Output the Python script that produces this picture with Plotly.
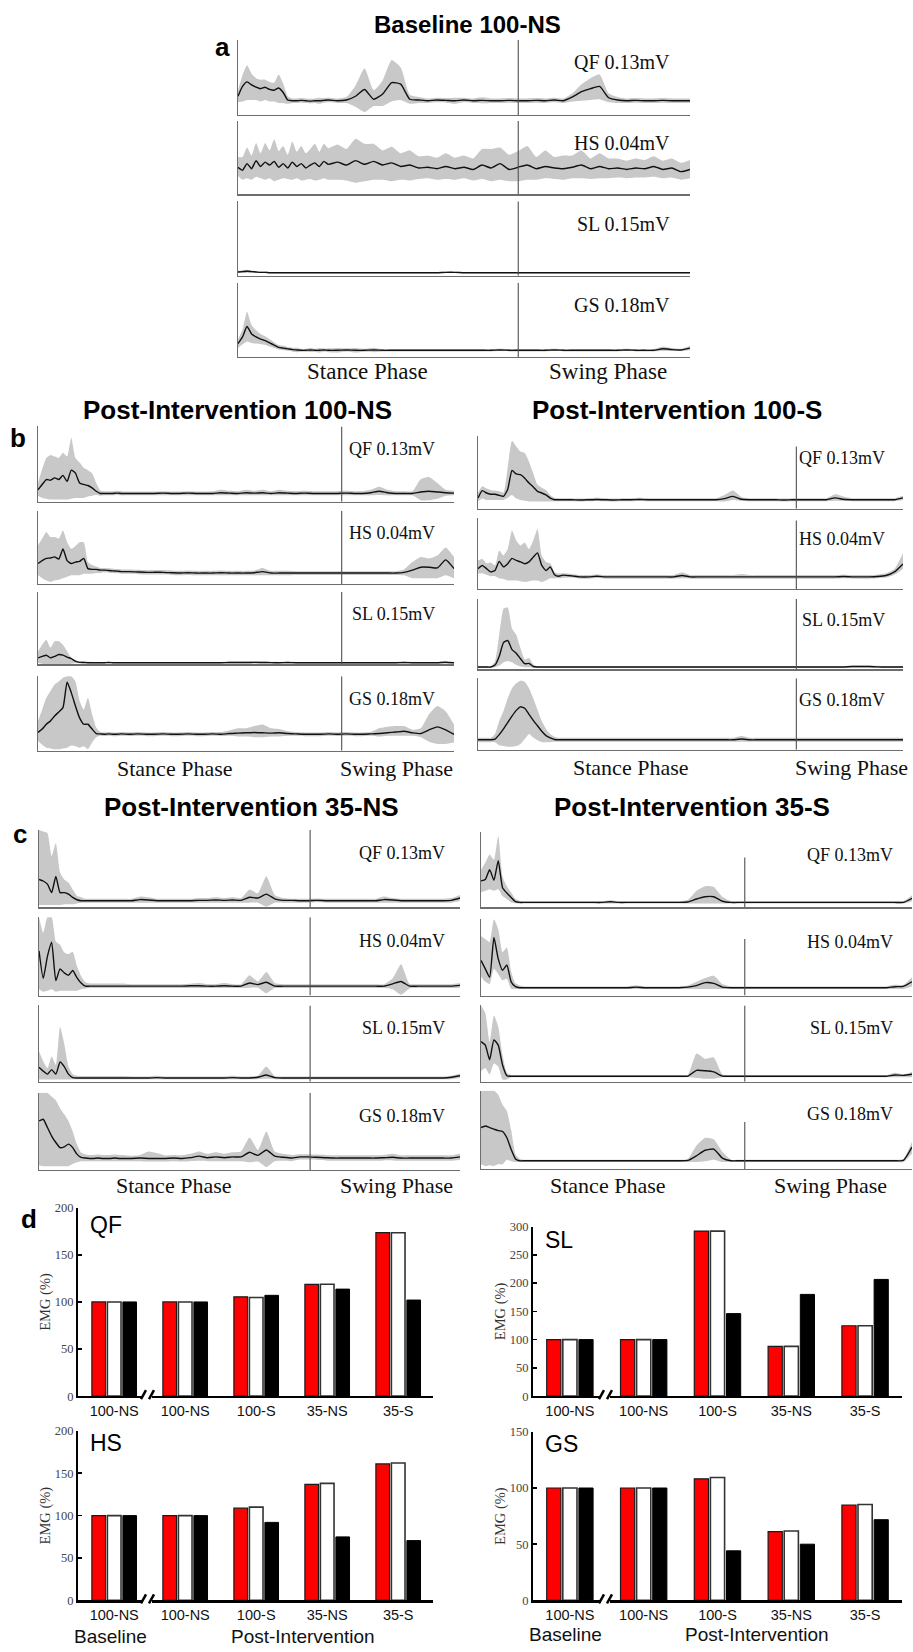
import plotly.graph_objects as go

W, H = 913, 1652

# ---------------- EMG envelopes: % of gait cycle vs % of panel full scale ----------------
X_PCT = [0, 1, 2, 3, 4, 5, 6, 7, 8, 9, 10, 11, 12, 13, 14, 15, 16, 17, 18, 19, 20,
         22, 24, 26, 28, 30, 32, 34, 36, 38, 40,
         42, 44, 46, 48, 50, 52, 54, 56, 58, 60,
         62, 64, 66, 68, 70, 72, 74, 76, 78, 80,
         82, 84, 86, 88, 90, 92, 94, 96, 98, 100]

# Panel a: Baseline 100-NS
A_QF_MEAN = [25, 38, 44, 40, 37, 35, 37, 34, 33, 36, 30, 20, 19, 19, 19.5, 19, 18.5, 19, 19, 19.5, 20,
             19, 20, 25, 34, 21, 28, 43, 41, 21, 20,
             19, 20, 19.5, 19, 20, 19, 19.5, 19, 19, 19.5,
             19, 19, 19.5, 19, 20, 19, 24, 31, 35, 38,
             23, 20, 19, 19.5, 19, 19, 19.5, 19, 19, 19]
A_QF_HI = [33, 53, 66, 55, 49, 47, 47, 44, 43, 54, 42, 25, 22, 22, 22.5, 22, 21.5, 22, 23, 22.5, 23,
           22, 24, 39, 62, 33, 46, 73, 63, 27, 24,
           22, 23, 22.5, 23, 23, 22, 23.5, 22, 22, 22.5,
           22, 22, 22.5, 22, 23, 22, 29, 41, 49, 54,
           29, 24, 22, 22.5, 22, 22, 22.5, 22, 22, 22]
A_QF_LO = [17, 18, 20, 20, 20, 18, 20, 18, 18, 16, 16, 15, 16, 16, 16.5, 16, 15.5, 16, 15, 16.5, 17,
           16, 16, 11, 4, 12, 12, 18, 20, 15, 16,
           16, 17, 16.5, 15, 17, 16, 15.5, 16, 16, 16.5,
           16, 16, 16.5, 16, 17, 16, 18, 19, 20, 21,
           17, 16, 16, 16.5, 16, 16, 16.5, 16, 16, 16]

A_HS_MEAN = [37, 33, 42, 35, 46, 38, 44, 40, 45, 37, 42, 36, 44, 38, 42, 36, 40, 43, 38, 45, 41,
             44, 40, 46, 41, 45, 40, 43, 38, 40, 36,
             37, 35, 38, 35, 37, 34, 40, 36, 42, 34,
             37, 40, 35, 38, 36, 35, 37, 40, 35, 38,
             35, 36, 34, 36, 35, 38, 34, 36, 31, 34]
A_HS_HI = [51, 51, 64, 53, 70, 56, 70, 60, 75, 59, 66, 54, 72, 58, 66, 56, 62, 69, 58, 69, 63,
           68, 62, 76, 69, 69, 60, 65, 56, 60, 52,
           53, 50, 56, 50, 53, 49, 62, 62, 64, 54,
           59, 66, 51, 60, 51, 53, 53, 60, 49, 56,
           49, 49, 46, 49, 47, 52, 46, 49, 43, 47]
A_HS_LO = [25, 20, 22, 20, 24, 22, 20, 22, 18, 20, 22, 21, 20, 22, 19, 20, 21, 19, 20, 22, 20,
           20, 19, 16, 18, 20, 20, 18, 20, 19, 21,
           22, 20, 21, 20, 22, 19, 21, 18, 20, 18,
           18, 20, 20, 22, 21, 20, 22, 22, 21, 22,
           22, 23, 22, 23, 23, 24, 22, 23, 20, 22]

A_SL_MEAN = [5, 5.5, 6, 5.5, 5, 4.5, 4.5, 4, 4, 4, 4, 4, 4, 4, 4, 4, 4, 4, 4, 4, 4,
             4, 4, 4, 4, 4, 4, 4, 4, 4, 4,
             4, 4, 4.5, 4.5, 4, 4, 4, 4, 4, 4,
             4, 4, 4, 4, 4, 4, 4, 4, 4, 4,
             4, 4, 4, 4, 4, 4, 4, 4, 4, 4]
A_SL_HI = [6.5, 7.5, 8, 7, 6, 5.5, 5.5, 4.7, 4.7, 4.7, 4.7, 4.7, 4.7, 4.7, 4.7, 4.7, 4.7, 4.7, 4.7, 4.7, 4.7,
           4.7, 4.7, 4.7, 4.7, 4.7, 4.7, 4.7, 4.7, 4.7, 4.7,
           4.7, 4.7, 5.2, 5.2, 4.7, 4.7, 4.7, 4.7, 4.7, 4.7,
           4.7, 4.7, 4.7, 4.7, 4.7, 4.7, 4.7, 4.7, 4.7, 4.7,
           4.7, 4.7, 4.7, 4.7, 4.7, 4.7, 4.7, 4.7, 4.7, 4.7]
A_SL_LO = [3.5, 3.5, 4, 4, 4, 3.5, 3.5, 3.3, 3.3, 3.3, 3.3, 3.3, 3.3, 3.3, 3.3, 3.3, 3.3, 3.3, 3.3, 3.3, 3.3,
           3.3, 3.3, 3.3, 3.3, 3.3, 3.3, 3.3, 3.3, 3.3, 3.3,
           3.3, 3.3, 3.8, 3.8, 3.3, 3.3, 3.3, 3.3, 3.3, 3.3,
           3.3, 3.3, 3.3, 3.3, 3.3, 3.3, 3.3, 3.3, 3.3, 3.3,
           3.3, 3.3, 3.3, 3.3, 3.3, 3.3, 3.3, 3.3, 3.3, 3.3]

A_GS_MEAN = [18, 27, 41, 31, 27, 24, 22, 19, 16, 13, 12, 11, 10, 9.5, 9, 9, 9.5, 9, 9, 9.5, 9,
             9, 9.5, 9, 9, 9.5, 9, 9, 9, 9, 9,
             9, 9, 9, 9, 9, 9, 9, 9, 9.5, 9,
             9, 9, 9, 9, 9.5, 9, 9, 9, 9, 9,
             9, 9, 9.5, 9, 9, 9, 11, 10, 9.5, 12]
A_GS_HI = [24, 37, 61, 43, 36, 31, 28, 24, 20, 16, 15, 13.5, 12.5, 12.5, 11, 11, 12.5, 11, 12, 11.5, 11.5,
           12, 11.5, 12, 11, 12.5, 10.5, 10.5, 10.5, 10.5, 10.5,
           10.5, 10.5, 10.5, 10.5, 10.5, 10.5, 10.5, 10.5, 11, 10.5,
           10.5, 10.5, 10.5, 10.5, 11, 10.5, 10.5, 10.5, 10.5, 10.5,
           10.5, 10.5, 11, 10.5, 10.5, 10.5, 14, 12, 11, 15]
A_GS_LO = [12, 17, 21, 19, 18, 17, 16, 14, 12, 10, 9, 8.5, 7.5, 6.5, 7, 7, 6.5, 7, 6, 7.5, 6.5,
           6, 7.5, 6, 7, 6.5, 7.5, 7.5, 7.5, 7.5, 7.5,
           7.5, 7.5, 7.5, 7.5, 7.5, 7.5, 7.5, 7.5, 8, 7.5,
           7.5, 7.5, 7.5, 7.5, 8, 7.5, 7.5, 7.5, 7.5, 7.5,
           7.5, 7.5, 8, 7.5, 7.5, 7.5, 8, 8, 8, 9]

# Panel b (left): Post-Intervention 100-NS
B1_QF_MEAN = [16, 23, 29.5, 28.6, 31.7, 29.5, 35, 27, 42, 38, 25, 23, 21.6, 18.5, 14, 11, 11, 11, 11, 11.5, 11,
              11, 11, 11, 11, 11.5, 11, 11, 11.5, 11, 11,
              11, 12, 11.5, 11, 12, 11.5, 12, 11, 12, 11.5,
              11, 11.5, 11, 11, 11, 11, 11.5, 11, 11, 12,
              14, 12, 11, 11, 11, 13, 14, 13, 12, 11.5]
B1_QF_HI = [25, 43, 58, 62, 60, 58, 65, 60, 85, 58, 52, 45, 42, 38, 25, 15, 14, 14, 14, 14.5, 14,
            13.5, 13.5, 13.5, 13.5, 14, 13.5, 13.5, 14, 13.5, 13.5,
            14, 16, 14.5, 14, 16, 14.5, 16, 14, 16, 14.5,
            14, 14.5, 14, 14, 14, 14, 14.5, 14, 14, 16,
            20, 16, 14, 14, 14, 30, 33, 25, 16, 14.5]
B1_QF_LO = [8, 5, 4, 3, 3, 3, 3, 3, 4, 5, 5, 5, 7, 8, 9, 8, 8.5, 8.5, 8.5, 9, 8.5,
            8.5, 8.5, 8.5, 8.5, 8.5, 8.5, 8.5, 8.5, 8.5, 8.5,
            8.5, 8.5, 8.5, 8.5, 8.5, 8.5, 8.5, 8.5, 8.5, 8.5,
            8.5, 8.5, 8.5, 8.5, 8.5, 8.5, 8.5, 8.5, 8.5, 8.5,
            9, 8.5, 8.5, 8.5, 8.5, 2, 2, 4, 8, 8.5]

B1_HS_MEAN = [28, 32, 35, 35.6, 37, 34, 48, 32, 28, 30, 31, 35, 21, 20, 20, 19, 19, 18.5, 18, 17.6, 17,
              17, 16.5, 16, 16, 16, 15.5, 15, 15.5, 15, 15,
              15, 15.5, 15, 15, 15, 15.5, 17, 15, 15, 15,
              15, 15, 15, 15, 15, 15, 15, 15, 15, 15,
              15, 15, 15, 16, 19, 23, 23, 22, 33, 21]
B1_HS_HI = [53, 62, 71, 64, 64, 62, 73, 57, 48, 52, 57, 57, 30, 26, 24, 22, 22, 21.5, 21, 20.5, 20,
            20, 19.5, 19, 19, 19, 18.5, 18, 18.5, 18, 18,
            18, 18.5, 18, 18, 18, 18.5, 22, 18, 18, 18,
            17.5, 17.5, 17.5, 17.5, 17.5, 17.5, 17.5, 17.5, 17.5, 17.5,
            17.5, 17.5, 17.5, 20, 30, 37, 35, 39, 50, 37]
B1_HS_LO = [12, 8, 5, 3, 5, 6, 8, 10, 12, 12, 12, 14, 14, 14, 15, 15, 16, 15.5, 15, 14.6, 14,
            14, 13.5, 13, 13, 13, 12.5, 12, 12.5, 12, 12,
            12, 12, 12, 12, 12, 12, 12, 12, 12, 12,
            12.5, 12.5, 12.5, 12.5, 12.5, 12.5, 12.5, 12.5, 12.5, 12.5,
            12.5, 12.5, 12.5, 12, 8, 8, 8, 8, 12, 8]

B1_SL_MEAN = [9, 11, 12.7, 9, 11, 13.6, 12.7, 10, 8, 4.5, 2.7, 2.5, 2.3, 2.3, 2.3, 2.3, 2.3, 2.5, 2.3, 2.3, 2.3,
              2.3, 2.3, 2.3, 2.3, 2.3, 2.3, 2.3, 2.3, 2.3, 2.3,
              2.3, 2.3, 2.5, 2.6, 2.5, 2.8, 2.6, 2.4, 2.3, 2.5,
              2.3, 2.3, 2.3, 2.3, 2.3, 2.3, 2.3, 2.3, 2.3, 2.3,
              2.3, 2.3, 2.3, 2.5, 2.3, 2.3, 2.3, 2.3, 3, 2.3]
B1_SL_HI = [18, 27, 34, 23, 32, 32, 27, 18, 9, 5.5, 4, 4.5, 3.5, 3.3, 3.3, 3.3, 3.3, 3.5, 3.3, 3.3, 3.3,
            3.3, 3.3, 3.3, 3.3, 3.3, 3.3, 3.3, 3.3, 3.3, 3.3,
            3.3, 3.3, 4, 4, 4, 4.3, 4, 3.5, 3.3, 3.5,
            3.3, 3.3, 3.3, 3.3, 3.3, 3.3, 3.3, 3.3, 3.3, 3.3,
            3.3, 3.3, 3.3, 3.5, 3.3, 3.3, 3.3, 3.3, 4, 3.3]
B1_SL_LO = [2, 1, 0, 0, 0, 0, 0, 0, 1, 1.5, 1.5, 1.5, 1.3, 1.3, 1.3, 1.3, 1.3, 1.5, 1.3, 1.3, 1.3,
            1.3, 1.3, 1.3, 1.3, 1.3, 1.3, 1.3, 1.3, 1.3, 1.3,
            1.3, 1.3, 1.3, 1.3, 1.3, 1.3, 1.3, 1.3, 1.3, 1.3,
            1.3, 1.3, 1.3, 1.3, 1.3, 1.3, 1.3, 1.3, 1.3, 1.3,
            1.3, 1.3, 1.3, 1.3, 1.3, 1.3, 1.3, 1.3, 1.3, 1.3]

B1_GS_MEAN = [24.4, 29, 35.5, 40, 46.7, 52, 57.8, 92, 78, 60, 44, 35.5, 35.5, 29, 23, 22.5, 22, 22.5, 22, 22, 22.5,
              22, 22.5, 22, 22, 22.5, 22, 22, 22.5, 22, 22,
              22.5, 22, 23, 23.5, 24, 24.5, 24, 23.5, 24, 23,
              22.5, 22, 22, 22, 22.5, 22, 22.5, 22, 22, 22.5,
              23, 24, 25, 26, 24, 23, 28, 32, 28, 22]
B1_GS_HI = [40, 55, 71, 80, 89, 93, 98, 100, 100, 93, 67, 55, 71, 49, 31, 25, 24.5, 25, 24.5, 24.5, 25,
            24.5, 25, 24.5, 24.5, 25, 24.5, 24.5, 25, 24.5, 24.5,
            25, 25, 27, 30, 30, 33, 35, 30, 29, 26,
            25, 24.5, 24.5, 24.5, 25, 24.5, 25, 24.5, 24.5, 25,
            30, 32, 33, 33, 28, 30, 49, 60, 53, 35]
B1_GS_LO = [13, 8, 4, 3, 2, 2, 3, 4, 7, 6, 4, 6, 2, 11, 18, 20, 19.5, 20, 19.5, 19.5, 20,
            19.5, 20, 19.5, 19.5, 20, 19.5, 19.5, 20, 19.5, 19.5,
            20, 19.5, 20, 19, 19, 18, 18, 19, 19, 20,
            20, 19.5, 19.5, 19.5, 20, 19.5, 20, 19.5, 19.5, 20,
            19, 20, 20, 20, 20, 18, 12, 9, 9, 11]

# Panel b (right): Post-Intervention 100-S
B2_QF_MEAN = [14.7, 25, 21.7, 20, 20, 18.4, 17, 27, 53, 48, 47, 42, 35.5, 30, 24, 21.7, 19, 14.7, 12.4, 12.4, 12.4,
              12.4, 12, 12.4, 12.8, 12.4, 12, 12.4, 12.4, 12.8, 12.4,
              12.4, 12.4, 12.4, 12.4, 12.4, 12.4, 12.4, 12.4, 14, 17,
              13, 12.4, 12.4, 12.4, 12.4, 12, 12.4, 12.4, 12.4, 12.4,
              12.4, 15, 13, 12.4, 12.4, 12.4, 12.4, 12.4, 12.4, 15]
B2_QF_HI = [22, 31, 28, 26, 25, 24, 22, 58, 94, 86, 79, 77, 65, 49, 33, 29, 26, 19, 15, 14.5, 14.5,
            14.5, 14, 14.5, 15, 14.5, 14, 14.5, 14.5, 15, 14.5,
            14.5, 14.5, 14.5, 14.5, 14.5, 14.5, 14.5, 14.5, 19, 25,
            16, 14.5, 14.5, 14.5, 14.5, 14, 14.5, 14.5, 14.5, 14.5,
            14.5, 20, 17, 14.5, 14.5, 14.5, 14.5, 14.5, 14.5, 18]
B2_QF_LO = [10, 14, 12, 12, 12, 12, 12, 15, 19, 14, 12, 11, 10, 10, 10, 10, 10, 10, 10.4, 10.4, 10.4,
            10.4, 10, 10.4, 10.8, 10.4, 10, 10.4, 10.4, 10.8, 10.4,
            10.4, 10.4, 10.4, 10.4, 10.4, 10.4, 10.4, 10.4, 10, 12,
            10.5, 10.4, 10.4, 10.4, 10.4, 10, 10.4, 10.4, 10.4, 10.4,
            10.4, 11, 10.5, 10.4, 10.4, 10.4, 10.4, 10.4, 10.4, 12]

B2_HS_MEAN = [28.6, 33, 28.6, 24, 26, 38.7, 31, 35.5, 43, 40, 38, 35.5, 38, 44.7, 50.7, 33, 26, 31, 20, 18, 19.4,
              18.4, 17, 17, 18, 17, 17, 17, 17, 17, 17,
              17, 17, 17, 19, 17, 17, 17, 17, 17, 17,
              17, 17, 17, 17, 17, 17, 17, 17, 17, 17,
              17, 17, 17.5, 17, 17, 17, 17.5, 19, 24, 35]
B2_HS_HI = [40, 42, 36, 37, 33, 54, 47, 56, 82, 68, 61, 65, 56, 68, 84, 47, 38, 36, 24, 21.7, 22,
            21, 19.5, 19.5, 20.5, 19.5, 19.5, 19.5, 19.5, 19.5, 19.5,
            19.5, 19.5, 19.5, 23, 19.5, 19.5, 19.5, 19.5, 19.5, 19.5,
            21, 19.5, 19.5, 19.5, 19.5, 19.5, 19.5, 19.5, 19.5, 19.5,
            19.5, 19.5, 20, 19.5, 19.5, 19.5, 20, 22, 28, 50]
B2_HS_LO = [21.7, 22, 20, 18, 18, 15, 14, 12, 12, 12, 11, 10, 11, 12, 12, 10, 12, 15, 15, 15, 15.5,
            16, 14.5, 14.5, 15.5, 14.5, 14.5, 14.5, 14.5, 14.5, 14.5,
            14.5, 14.5, 14.5, 15, 14.5, 14.5, 14.5, 14.5, 14.5, 14.5,
            14.5, 14.5, 14.5, 14.5, 14.5, 14.5, 14.5, 14.5, 14.5, 14.5,
            14.5, 14.5, 15, 14.5, 14.5, 14.5, 15, 16, 20, 28]

B2_SL_MEAN = [3.3, 3.3, 3.3, 3.3, 6, 18.6, 38, 41, 28, 23, 15, 8, 8.4, 4, 3.3, 3.3, 3.3, 3.3, 3.3, 3.3, 3.3,
              3.3, 3.3, 3.3, 3.3, 3.3, 3.3, 3.3, 3.3, 3.3, 3.3,
              3.3, 3.3, 3.3, 3.3, 3.3, 3.3, 3.3, 3.3, 3.3, 3.3,
              3.3, 3.3, 3.3, 3.3, 3.3, 3.3, 3.3, 3.3, 3.3, 3.3,
              3.3, 3.3, 3.3, 4, 4, 4, 3.5, 3.3, 3.3, 3.3]
B2_SL_HI = [4.5, 4.5, 4.5, 4.5, 11.6, 49, 86, 88, 58, 49, 30, 14, 16, 7, 4.6, 4.5, 4.5, 4.5, 4.5, 4.5, 4.5,
            4.5, 4.5, 4.5, 4.5, 4.5, 4.5, 4.5, 4.5, 4.5, 4.5,
            4.5, 4.5, 4.5, 4.5, 4.5, 4.5, 4.5, 4.5, 4.5, 4.5,
            4.5, 4.5, 4.5, 4.5, 4.5, 4.5, 4.5, 4.5, 4.5, 4.5,
            4.5, 4.5, 4.5, 5.5, 5.5, 5.5, 5, 4.5, 4.5, 4.5]
B2_SL_LO = [2.3, 2.3, 2.3, 2.3, 3, 5, 10, 12, 10, 6, 4, 3, 3, 2.3, 2.3, 2.3, 2.3, 2.3, 2.3, 2.3, 2.3,
            2.3, 2.3, 2.3, 2.3, 2.3, 2.3, 2.3, 2.3, 2.3, 2.3,
            2.3, 2.3, 2.3, 2.3, 2.3, 2.3, 2.3, 2.3, 2.3, 2.3,
            2.3, 2.3, 2.3, 2.3, 2.3, 2.3, 2.3, 2.3, 2.3, 2.3,
            2.3, 2.3, 2.3, 2.3, 2.3, 2.3, 2.3, 2.3, 2.3, 2.3]

B2_GS_MEAN = [13.8, 13.8, 13.8, 13.8, 14.7, 21, 29, 38, 47, 55, 60, 58, 49.5, 41, 33.5, 25.7, 19.7, 16.5, 14.2, 13.8, 13.8,
              13.8, 13.8, 13.8, 13.8, 13.8, 13.8, 13.8, 13.8, 13.8, 13.8,
              13.8, 13.8, 13.8, 13.8, 13.8, 13.8, 13.8, 13.8, 13.8, 13.8,
              15, 13.8, 13.8, 13.8, 13.8, 13.8, 13.8, 13.8, 13.8, 13.8,
              13.8, 13.8, 13.8, 13.8, 13.8, 13.8, 13.8, 13.8, 13.8, 13.8]
B2_GS_HI = [16.5, 16.5, 16.5, 16.5, 22, 40, 54, 72, 86, 93, 97, 95, 86, 72, 56, 40, 29, 22, 18, 16.5, 16.5,
            16.5, 16.5, 16.5, 16.5, 16.5, 16.5, 16.5, 16.5, 16.5, 16.5,
            16.5, 16.5, 16.5, 16.5, 16.5, 16.5, 16.5, 16.5, 16.5, 16.5,
            19, 16.5, 16.5, 16.5, 16.5, 16.5, 16.5, 16.5, 16.5, 16.5,
            16.5, 16.5, 16.5, 16.5, 16.5, 16.5, 16.5, 16.5, 16.5, 16.5]
B2_GS_LO = [10.5, 10.5, 10.5, 10.5, 10.5, 6, 5, 4, 4, 5, 8, 15, 22, 17, 13, 10.5, 10.5, 10.5, 11, 11, 11,
            11, 11, 11, 11, 11, 11, 11, 11, 11, 11,
            11, 11, 11, 11, 11, 11, 11, 11, 11, 11,
            11, 11, 11, 11, 11, 11, 11, 11, 11, 11,
            11, 11, 11, 11, 11, 11, 11, 11, 11, 11]

# Panel c (left): Post-Intervention 35-NS
C1_QF_MEAN = [36, 34, 30, 19, 40, 19, 19, 17, 12.8, 9.8, 8.5, 8.5, 8.5, 8.5, 8.5, 8.5, 8.5, 8.5, 8.5, 8.5, 8.5,
              8.5, 10, 9.5, 8.5, 8.5, 8.5, 8.5, 8.5, 9, 9,
              9.5, 9, 9.5, 9, 13, 12, 17, 11, 9, 9,
              8.5, 8.5, 9, 8.5, 8.5, 8.5, 8.5, 8.5, 8.5, 8.5,
              10, 9.5, 8.5, 8.5, 8.5, 8.5, 8.5, 8.5, 9, 12]
C1_QF_HI = [100, 98, 96, 66, 83, 45, 36, 32, 23, 15, 13, 11, 11, 11, 11, 11, 11, 11, 11, 11, 11,
            11, 14, 13, 11, 11, 11, 11, 11, 12, 12,
            13, 12, 13, 12, 23, 18, 40, 16, 12, 11,
            11, 11, 11.5, 11, 11, 11, 11, 11, 11, 11,
            14, 12, 11, 11, 11, 11, 11, 11, 12, 16]
C1_QF_LO = [3, 3, 3, 3, 3, 3, 4, 4, 4, 5, 6, 6, 6, 6, 6, 6, 6, 6, 6, 6, 6,
            6, 6, 6, 6, 6, 6, 6, 6, 6, 6,
            6, 6, 6, 6, 6, 6, 1, 6, 6, 6,
            6, 6, 6.5, 6, 6, 6, 6, 6, 6, 6,
            6, 6, 6, 6, 6, 6, 6, 6, 6, 8]

C1_HS_MEAN = [57, 22, 50, 68, 19, 34, 29, 26, 32, 23, 16, 12, 12, 12, 12, 12, 12, 12, 12, 12, 12,
              12, 12, 12, 12, 12, 12, 12, 12.5, 12.5, 12,
              12, 12.5, 12, 12, 16, 14, 17, 12, 12, 12,
              12, 12, 12, 12, 12, 12, 12, 12, 12, 12,
              12, 15, 18, 12, 12, 12, 12, 12, 12, 13]
C1_HS_HI = [100, 80, 100, 100, 69, 65, 55, 53, 56, 38, 25, 17, 15.5, 15.5, 15.5, 15.5, 15.5, 15.5, 15.5, 15.5, 15.5,
            14.5, 14.5, 14.5, 14.5, 14.5, 14.5, 14.5, 15, 16, 14.5,
            14.5, 16, 14.5, 14.5, 26, 18, 30, 16, 14.5, 14.5,
            14.5, 14.5, 14.5, 14.5, 14.5, 14.5, 14.5, 14.5, 14.5, 14.5,
            14.5, 22, 40, 15, 14.5, 14.5, 14.5, 14.5, 14.5, 16]
C1_HS_LO = [8, 5, 6, 8, 5, 6, 6, 6, 6, 6, 8, 9, 9.5, 9.5, 9.5, 9.5, 9.5, 9.5, 9.5, 9.5, 9.5,
            9.5, 9.5, 9.5, 9.5, 9.5, 9.5, 9.5, 9.5, 9.5, 9.5,
            9.5, 9.5, 9.5, 9.5, 10, 10, 3, 9.5, 9.5, 9.5,
            9.5, 9.5, 9.5, 9.5, 9.5, 9.5, 9.5, 9.5, 9.5, 9.5,
            9.5, 8, 1, 9, 9.5, 9.5, 9.5, 9.5, 9.5, 10]

C1_SL_MEAN = [19, 14, 10, 16, 10, 26, 20, 10, 5.5, 5, 5, 5, 5, 5, 5, 5, 5, 5, 5, 5, 5,
              5, 5, 5, 5.5, 5, 5, 5, 5, 5, 5,
              5, 5, 5.5, 5, 5, 6, 9, 5.5, 5, 5,
              5, 5, 5, 5, 5, 5, 5, 5, 5, 5,
              5, 5, 5, 5, 5, 5, 5, 5, 6, 8]
C1_SL_HI = [40, 27, 18, 33, 22, 72, 50, 20, 10, 8, 7.5, 7.5, 7.5, 7.5, 7.5, 7.5, 7.5, 7.5, 7.5, 7.5, 7.5,
            7, 7, 7, 8, 7, 7, 7, 7, 7, 7,
            7, 7, 8, 7, 7, 8, 20, 7.5, 7, 7,
            7, 7, 7, 7, 7, 7, 7, 7, 7, 7,
            7, 7, 7, 7, 7, 7, 7, 7, 8, 11]
C1_SL_LO = [3, 3, 3, 3, 3, 3, 3, 3, 3.5, 3.5, 3.5, 3.5, 3.5, 3.5, 3.5, 3.5, 3.5, 3.5, 3.5, 3.5, 3.5,
            3.5, 3.5, 3.5, 3.5, 3.5, 3.5, 3.5, 3.5, 3.5, 3.5,
            3.5, 3.5, 3.5, 3.5, 3.5, 3.5, 4, 3.5, 3.5, 3.5,
            3.5, 3.5, 3.5, 3.5, 3.5, 3.5, 3.5, 3.5, 3.5, 3.5,
            3.5, 3.5, 3.5, 3.5, 3.5, 3.5, 3.5, 3.5, 3.5, 5]

C1_GS_MEAN = [63.5, 65.7, 55, 44, 35.6, 29, 30, 33.5, 29, 20.6, 16.3, 15.5, 15, 15, 15.5, 15, 15, 15, 15.5, 15, 15,
              15, 15.5, 15, 15, 15, 15.5, 15, 16, 18, 16,
              17, 16, 17, 17, 23, 19, 26, 18, 16.5, 15.5,
              17, 17, 16.5, 16, 15.5, 15.5, 15.5, 15.5, 15.5, 15.5,
              16, 16.5, 15.5, 15.5, 15.5, 15.5, 15.5, 15.5, 15.5, 17]
C1_GS_HI = [100, 100, 100, 95, 90, 80, 72, 63.5, 50, 33.5, 22.7, 20.5, 19.5, 19.5, 20, 19.5, 19.5, 19.5, 20, 19.5, 19.5,
            18.5, 19.5, 24, 22, 19, 19.5, 19, 21, 24, 21,
            23, 21, 23, 24, 42, 26, 50, 24, 21, 19.5,
            20.5, 20.5, 20, 19.5, 19, 19, 19, 19, 19, 19,
            19.5, 21, 19, 19, 19, 19, 19, 19, 19, 21]
C1_GS_LO = [6, 5, 5, 5, 5, 5, 5, 5, 7.7, 10, 11.5, 11.5, 11.5, 11.5, 11.5, 11.5, 11.5, 11.5, 11.5, 11.5, 11.5,
            11.5, 11.5, 11, 11, 11, 11.5, 11, 11.5, 12, 11.5,
            11.5, 11.5, 11.5, 11.5, 10, 11, 4, 11.5, 12, 11.5,
            13.5, 13.5, 13, 12.5, 12, 12, 12, 12, 12, 12,
            12.5, 12.5, 12, 12, 12, 12, 12, 12, 12, 13]

# Panel c (right): Post-Intervention 35-S
C2_QF_MEAN = [35, 37, 50, 36, 62, 26, 19, 13, 7.4, 6.5, 6.5, 6.5, 6.5, 6.5, 6.5, 6.5, 6.5, 6.5, 6.5, 6.5, 6.5,
              6.5, 6.5, 6.5, 6.5, 7.4, 6.5, 6.5, 6.5, 6.5, 6.5,
              6.5, 6.5, 6.5, 7, 11, 14, 14, 8, 6.5, 6.5,
              6.5, 6.5, 6.5, 6.5, 6.5, 6.5, 6.5, 6.5, 6.5, 6.5,
              6.5, 6.5, 6.5, 6.5, 6.5, 6.5, 6.5, 6.5, 6.5, 12]
C2_QF_HI = [50, 59, 70, 63, 95, 41, 28, 19.6, 11, 8.7, 8, 8, 8, 8, 8, 8, 8, 8, 8, 8, 8,
            8, 8, 8, 8, 9.5, 8, 8, 8, 8, 8,
            8, 8, 8, 10, 22, 28, 27, 14, 8, 8,
            8, 8, 8, 8, 8, 8, 8, 8, 8, 8,
            8, 8, 8, 8, 8, 8, 8, 8, 8, 16]
C2_QF_LO = [20, 22, 24, 22, 24, 15, 11, 6.5, 5.5, 5, 5, 5, 5, 5, 5, 5, 5, 5, 5, 5, 5,
            5, 5, 5, 5, 5, 5, 5, 5, 5, 5,
            5, 5, 5, 5, 5, 5, 5, 5, 5, 5,
            5, 5, 5, 5, 5, 5, 5, 5, 5, 5,
            5, 5, 5, 5, 5, 5, 5, 5, 5, 8]

C2_HS_MEAN = [46, 35, 24, 76, 48, 33, 40, 18, 11.6, 10.3, 10.3, 10.3, 10.3, 10.3, 10.3, 10.3, 10.3, 10.3, 10.3, 10.3, 10.3,
              10.3, 10.3, 10.3, 10.3, 10.3, 10.3, 10.3, 11, 10.3, 10.3,
              10.3, 10.3, 10.3, 11, 13, 17, 16, 11, 10.3, 10.3,
              10.3, 10.3, 10.3, 10.3, 10.3, 10.3, 10.3, 10.3, 10.3, 10.3,
              10.3, 10.3, 10.3, 10.3, 10.3, 10.3, 10.3, 11.6, 12, 18]
C2_HS_HI = [78, 74, 70, 100, 87, 57, 63, 31, 16, 13, 12, 12, 12, 12, 12, 12, 12, 12, 12, 12, 12,
            12, 12, 12, 12, 12, 12, 12, 13, 12, 12,
            12, 12, 12, 13, 18, 23, 26, 15, 12, 12,
            12, 12, 12, 12, 12, 12, 12, 12, 12, 12,
            12, 12, 12, 12, 12, 12, 12, 14, 14, 24]
C2_HS_LO = [25, 18, 15, 35, 28, 20, 22, 9, 8.6, 8.6, 8.6, 8.6, 8.6, 8.6, 8.6, 8.6, 8.6, 8.6, 8.6, 8.6, 8.6,
            8.6, 8.6, 8.6, 8.6, 8.6, 8.6, 8.6, 8.6, 8.6, 8.6,
            8.6, 8.6, 8.6, 8.6, 8.6, 8.6, 8.6, 8.6, 8.6, 8.6,
            8.6, 8.6, 8.6, 8.6, 8.6, 8.6, 8.6, 8.6, 8.6, 8.6,
            8.6, 8.6, 8.6, 8.6, 8.6, 8.6, 8.6, 8.6, 8.6, 12]

C2_SL_MEAN = [52.6, 48, 29, 55, 48, 22, 8, 7.3, 7.3, 7.3, 7.3, 7.3, 7.3, 7.3, 7.3, 7.3, 7.3, 7.3, 7.3, 7.3, 7.3,
              7.3, 7.3, 7.3, 7.3, 7.3, 7.3, 7.3, 7.3, 7.3, 7.3,
              7.3, 7.3, 7.3, 7.5, 15, 14.5, 13, 7.5, 7.3, 7.3,
              7.3, 7.3, 7.3, 7.3, 7.3, 7.3, 7.3, 7.3, 7.3, 7.3,
              7.3, 7.3, 7.3, 7.3, 7.3, 7.3, 7.3, 9, 8.5, 10]
C2_SL_HI = [100, 90, 52, 87, 72, 35, 12, 9, 8.6, 8.6, 8.6, 8.6, 8.6, 8.6, 8.6, 8.6, 8.6, 8.6, 8.6, 8.6, 8.6,
            8.6, 8.6, 8.6, 8.6, 8.6, 8.6, 8.6, 8.6, 8.6, 8.6,
            8.6, 8.6, 8.6, 9, 37, 30, 32, 10, 8.6, 8.6,
            8.6, 8.6, 8.6, 8.6, 8.6, 8.6, 8.6, 8.6, 8.6, 8.6,
            8.6, 8.6, 8.6, 8.6, 8.6, 8.6, 8.6, 12, 10, 13]
C2_SL_LO = [14, 18, 9.5, 24, 20, 3, 3, 6, 6, 6, 6, 6, 6, 6, 6, 6, 6, 6, 6, 6, 6,
            6, 6, 6, 6, 6, 6, 6, 6, 6, 6,
            6, 6, 6, 6, 5, 4, 4, 6, 6, 6,
            6, 6, 6, 6, 6, 6, 6, 6, 6, 6,
            6, 6, 6, 6, 6, 6, 6, 6, 6, 6]

C2_GS_MEAN = [53, 55, 53, 51, 49, 48, 40, 25, 13, 10.6, 10.6, 10.6, 10.6, 10.6, 10.6, 10.6, 10.6, 10.6, 10.6, 10.6, 10.6,
              10.6, 10.6, 10.6, 10.6, 10.6, 10.6, 10.6, 10.6, 10.6, 10.6,
              10.6, 10.6, 10.6, 11, 17, 24, 25.5, 14, 10.6, 10.6,
              10.6, 10.6, 10.6, 10.6, 10.6, 10.6, 10.6, 10.6, 10.6, 10.6,
              10.6, 10.6, 10.6, 10.6, 10.6, 10.6, 10.6, 10.6, 11, 28]
C2_GS_HI = [100, 100, 100, 100, 95, 82, 74, 50, 19, 13, 12, 12, 12, 12, 12, 12, 12, 12, 12, 12, 12,
            12, 12, 12, 12, 12, 12, 12, 12, 12, 12,
            12, 12, 12, 13, 30, 40, 38, 22, 12, 12,
            12, 12, 12, 12, 12, 12, 12, 12, 12, 12,
            12, 12, 12, 12, 12, 12, 12, 12, 13, 35]
C2_GS_LO = [6, 4, 5, 4, 6, 6, 12, 10, 9, 9, 9, 9, 9, 9, 9, 9, 9, 9, 9, 9, 9,
            9, 9, 9, 9, 9, 9, 9, 9, 9, 9,
            9, 9, 9, 9, 9, 10, 12, 9, 9, 9,
            9, 9, 9, 9, 9, 9, 9, 9, 9, 9,
            9, 9, 9, 9, 9, 9, 9, 9, 9, 20]

MUSCLES = ["QF", "HS", "SL", "GS"]
SCALES = ["0.13mV", "0.04mV", "0.15mV", "0.18mV"]
PANEL_TITLES = ["Baseline 100-NS", "Post-Intervention 100-NS", "Post-Intervention 100-S",
                "Post-Intervention 35-NS", "Post-Intervention 35-S"]
STANCE_END = [62, 73, 74.9, 64.4, 61.2]   # % of gait cycle where swing starts

# ---------------- Bar charts (EMG %) ----------------
BAR_GROUPS = ["100-NS", "100-NS", "100-S", "35-NS", "35-S"]
BAR_POS = [0, 1, 2, 3, 4]
QF_RED = [100, 100, 105.4, 118.7, 173.5]
QF_WHITE = [100, 100, 104.7, 118.7, 173.5]
QF_BLACK = [100, 100, 107, 113.6, 102]
HS_RED = [100, 100, 108.8, 136.8, 161]
HS_WHITE = [100, 100, 110, 138, 162]
HS_BLACK = [100, 100, 92, 74.9, 70.5]
SL_RED = [100, 100, 292, 88, 124.5]
SL_WHITE = [100, 100, 292, 88, 124.5]
SL_BLACK = [100, 100, 146, 180, 206.5]
GS_RED = [100, 100, 108.2, 61.2, 84.7]
GS_WHITE = [100, 100, 109.4, 61.8, 85.3]
GS_BLACK = [100, 100, 44.1, 50, 71.8]

# sanity check of series lengths
for _n, _v in list(globals().items()):
    if _n.endswith(("_MEAN", "_HI", "_LO")) and len(_v) != len(X_PCT):
        raise ValueError(f"{_n} has {len(_v)} values, expected {len(X_PCT)}")

EMG_DATA = [
    [(A_QF_MEAN, A_QF_LO, A_QF_HI), (A_HS_MEAN, A_HS_LO, A_HS_HI), (A_SL_MEAN, A_SL_LO, A_SL_HI), (A_GS_MEAN, A_GS_LO, A_GS_HI)],
    [(B1_QF_MEAN, B1_QF_LO, B1_QF_HI), (B1_HS_MEAN, B1_HS_LO, B1_HS_HI), (B1_SL_MEAN, B1_SL_LO, B1_SL_HI), (B1_GS_MEAN, B1_GS_LO, B1_GS_HI)],
    [(B2_QF_MEAN, B2_QF_LO, B2_QF_HI), (B2_HS_MEAN, B2_HS_LO, B2_HS_HI), (B2_SL_MEAN, B2_SL_LO, B2_SL_HI), (B2_GS_MEAN, B2_GS_LO, B2_GS_HI)],
    [(C1_QF_MEAN, C1_QF_LO, C1_QF_HI), (C1_HS_MEAN, C1_HS_LO, C1_HS_HI), (C1_SL_MEAN, C1_SL_LO, C1_SL_HI), (C1_GS_MEAN, C1_GS_LO, C1_GS_HI)],
    [(C2_QF_MEAN, C2_QF_LO, C2_QF_HI), (C2_HS_MEAN, C2_HS_LO, C2_HS_HI), (C2_SL_MEAN, C2_SL_LO, C2_SL_HI), (C2_GS_MEAN, C2_GS_LO, C2_GS_HI)],
]

# ---------------- layout geometry (pixels) ----------------
SERIF = "Liberation Serif, Times New Roman, serif"
SANS = "Liberation Sans, Arial, Helvetica, sans-serif"

PANEL_GEOM = [
    dict(x=(238, 690), rows=[(33, 109), (115, 189), (196, 271), (278, 353)], lab_x=96, lab_size=20,
         vtop=[1, 1, 1, 1], title=(467, 18, 24), stance=(367, 368), swing=(608, 368), ph_size=23),
    dict(x=(38, 454), rows=[(423, 499), (508, 582), (590, 663), (675, 750)], lab_x=95.9, lab_size=18,
         vtop=[1, 1, 1, 1], title=(237, 406, 26), stance=(174, 768), swing=(396, 768), ph_size=22),
    dict(x=(478, 903), rows=[(433, 506), (515, 587), (597, 668), (677, 749)], lab_x=96.2, lab_size=18,
         vtop=[0.86, 0.96, 1, 1], title=(677, 406, 26), stance=(630, 767), swing=(851, 767), ph_size=22),
    dict(x=(39, 460), rows=[(830, 908), (918, 997), (1007, 1084), (1095, 1173)], lab_x=96.9, lab_size=18,
         vtop=[1, 1, 1, 1], title=(251, 807, 26), stance=(173, 1189), swing=(396, 1189), ph_size=22),
    dict(x=(481, 912), rows=[(832, 908), (920, 997), (1007, 1084), (1093, 1172)], lab_x=96, lab_size=18,
         vtop=[0.66, 0.74, 1, 0.6], title=(692, 807, 26), stance=(607, 1189), swing=(830, 1189), ph_size=22),
]

def fx(px):
    return px / W

def fy(py):
    return 1 - py / H

def ann(text, xpx, ypx, size, family, xanchor="center", yanchor="middle", color="black"):
    return dict(text=text, x=fx(xpx), y=fy(ypx), xref="paper", yref="paper", showarrow=False,
                font=dict(size=size, family=family, color=color), xanchor=xanchor, yanchor=yanchor)

fig = go.Figure()
layout = {}
annotations = []
shapes = []

SPINE = "#6e6e6e"
BAND = "#c8c8c8"
SMOOTH = dict(shape="spline", smoothing=0.5)

for p, geom in enumerate(PANEL_GEOM):
    for m in range(4):
        idx = p * 4 + m + 1
        xa, ya = f"x{idx}", f"y{idx}"
        mean, lo, hi = EMG_DATA[p][m]
        fig.add_trace(go.Scatter(x=X_PCT, y=hi, mode="lines", line=dict(width=0, color=BAND, **SMOOTH),
                                 hoverinfo="skip", showlegend=False, xaxis=xa, yaxis=ya))
        fig.add_trace(go.Scatter(x=X_PCT, y=lo, mode="lines", line=dict(width=0, color=BAND, **SMOOTH),
                                 fill="tonexty", fillcolor=BAND, hoverinfo="skip", showlegend=False,
                                 xaxis=xa, yaxis=ya))
        fig.add_trace(go.Scatter(x=X_PCT, y=mean, mode="lines",
                                 line=dict(width=1.4, color="#111111", **SMOOTH),
                                 showlegend=False, xaxis=xa, yaxis=ya))
        top, bot = geom["rows"][m]
        layout[f"xaxis{idx}"] = dict(domain=[fx(geom["x"][0]), fx(geom["x"][1])], range=[0, 100],
                                     anchor=ya, showline=True, linecolor=SPINE, linewidth=1.3,
                                     showticklabels=False, ticks="", showgrid=False, zeroline=False,
                                     fixedrange=True)
        layout[f"yaxis{idx}"] = dict(domain=[fy(bot), fy(top)], range=[0, 100], anchor=xa,
                                     showline=True, linecolor=SPINE, linewidth=1.3,
                                     showticklabels=False, ticks="", showgrid=False, zeroline=False,
                                     fixedrange=True)
        shapes.append(dict(type="line", xref=xa, yref=ya, x0=STANCE_END[p], x1=STANCE_END[p],
                           y0=0, y1=100 * geom["vtop"][m], line=dict(color="#505050", width=1.1)))
        annotations.append(dict(text=f"{MUSCLES[m]} {SCALES[m]}", x=geom["lab_x"], y=70, xref=xa, yref=ya,
                                showarrow=False, xanchor="right", yanchor="middle",
                                font=dict(size=geom["lab_size"], family=SERIF, color="#111")))
    tx, ty, ts = geom["title"]
    annotations.append(ann(f"<b>{PANEL_TITLES[p]}</b>", tx, ty, ts, SANS))
    annotations.append(ann("Stance Phase", geom["stance"][0], geom["stance"][1], geom["ph_size"], SERIF, color="#111"))
    annotations.append(ann("Swing Phase", geom["swing"][0], geom["swing"][1], geom["ph_size"], SERIF, color="#111"))

# panel letters
for letter, lx, ly in [("a", 222, 40), ("b", 18, 435), ("c", 20, 834), ("d", 29, 1222)]:
    annotations.append(ann(f"<b>{letter}</b>", lx, ly, 26, SANS))

# ---------------- bar charts ----------------
BAR_GEOM = [
    dict(name="QF", data=(QF_RED, QF_WHITE, QF_BLACK), x=(78, 433), y=(1211, 1401), ymax=200,
         tick=[0, 50, 100, 150, 200], xr=[-0.51, 4.49], label=(88, 1228), brk=(141, 149)),
    dict(name="HS", data=(HS_RED, HS_WHITE, HS_BLACK), x=(78, 433), y=(1436, 1607), ymax=200,
         tick=[0, 50, 100, 150, 200], xr=[-0.51, 4.49], label=(88, 1448), brk=(141, 149)),
    dict(name="SL", data=(SL_RED, SL_WHITE, SL_BLACK), x=(533, 902), y=(1230, 1401), ymax=300,
         tick=[0, 50, 100, 150, 200, 250, 300], xr=[-0.5, 4.5], label=(543, 1244), brk=(599, 607)),
    dict(name="GS", data=(GS_RED, GS_WHITE, GS_BLACK), x=(533, 902), y=(1437, 1607), ymax=150,
         tick=[0, 50, 100, 150], xr=[-0.5, 4.5], label=(543, 1449), brk=(599, 607)),
]
BAR_STYLE = [dict(color="#ff0000", line=dict(color="#1a1a1a", width=1.2)),
             dict(color="#ffffff", line=dict(color="#333333", width=1.6)),
             dict(color="#000000", line=dict(color="#000000", width=1))]

for k, bg in enumerate(BAR_GEOM):
    idx = 21 + k
    xa, ya = f"x{idx}", f"y{idx}"
    for s, vals in enumerate(bg["data"]):
        fig.add_trace(go.Bar(x=BAR_POS, y=vals, marker=BAR_STYLE[s], showlegend=False,
                             xaxis=xa, yaxis=ya, hoverinfo="y"))
    layout[f"xaxis{idx}"] = dict(domain=[fx(bg["x"][0]), fx(bg["x"][1])], range=bg["xr"], anchor=ya,
                                 tickmode="array", tickvals=BAR_POS, ticktext=BAR_GROUPS,
                                 showline=True, linecolor="black", linewidth=2.2, ticks="",
                                 showgrid=False, zeroline=False, fixedrange=True,
                                 tickfont=dict(family=SANS, size=14.5, color="#111"))
    layout[f"yaxis{idx}"] = dict(domain=[fy(bg["y"][1]), fy(bg["y"][0])], range=[0, bg["ymax"]],
                                 anchor=xa, tickmode="array", tickvals=bg["tick"],
                                 showline=True, linecolor="black", linewidth=2, ticks="inside",
                                 ticklen=4, tickwidth=1.5, tickcolor="black", showgrid=False,
                                 zeroline=False, fixedrange=True,
                                 tickfont=dict(family=SERIF, size=12.5, color="#444"),
                                 title=dict(text="EMG (%)", font=dict(family=SERIF, size=14.5, color="#333"),
                                            standoff=1))
    annotations.append(ann(bg["name"], bg["label"][0], bg["label"][1], 23, SANS, xanchor="left"))
    # axis break marks "//"
    yb = bg["y"][1]
    b0, b1 = bg["brk"]
    shapes.append(dict(type="rect", xref="paper", yref="paper", x0=fx(b0 + 2), x1=fx(b1 + 3),
                       y0=fy(yb + 3), y1=fy(yb - 3), fillcolor="white", line=dict(width=0), layer="above"))
    for bx in (b0, b1):
        shapes.append(dict(type="line", xref="paper", yref="paper", x0=fx(bx), y0=fy(yb + 3),
                           x1=fx(bx + 5), y1=fy(yb - 6), line=dict(color="black", width=2.5), layer="above"))

for txt, lx, ly in [("Baseline", 110, 1643), ("Post-Intervention", 303, 1643),
                    ("Baseline", 565, 1641), ("Post-Intervention", 757, 1641)]:
    annotations.append(ann(txt, lx, ly, 19, SANS, color="#111"))

fig.update_layout(**layout)
fig.update_layout(width=W, height=H, margin=dict(l=0, r=0, t=0, b=0),
                  paper_bgcolor="white", plot_bgcolor="rgba(0,0,0,0)",
                  barmode="group", bargap=0.345, bargroupgap=0.12,
                  showlegend=False, annotations=annotations, shapes=shapes,
                  font=dict(family=SANS, color="black"))

fig.write_html("out.html", include_plotlyjs=True, config={"displayModeBar": False, "staticPlot": True})
